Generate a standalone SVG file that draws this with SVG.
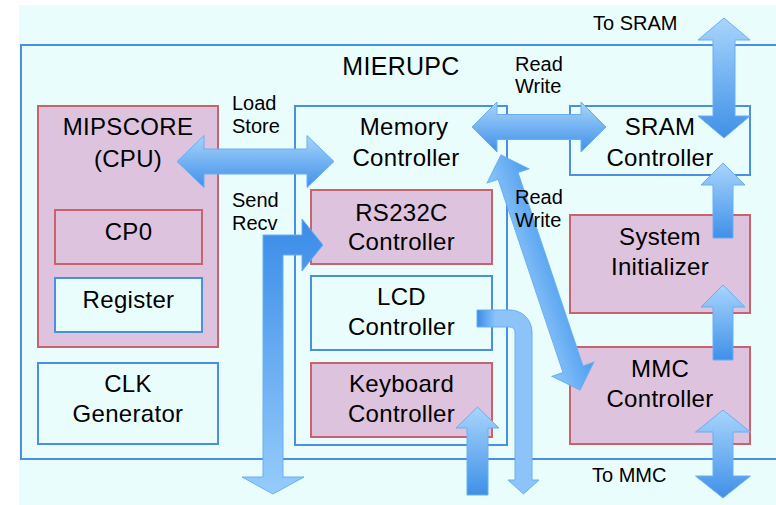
<svg xmlns="http://www.w3.org/2000/svg" width="776" height="505" viewBox="0 0 776 505">
<defs>
<style>
.bg{fill:#EAFDFD}
.blue{fill:#EAFDFD;stroke:#4A8FE2;stroke-width:2}
.red{fill:#DEC3DE;stroke:#C6636D;stroke-width:2}
text{font-family:"Liberation Sans",Arial,sans-serif;fill:#000}
.t{font-size:24px;text-anchor:middle;letter-spacing:0.3px}
.s{font-size:20px}
.arw{stroke:#6BAEF0;stroke-width:1;stroke-linejoin:miter}
</style>
<linearGradient id="gV" x1="0" y1="0" x2="0" y2="1">
<stop offset="0" stop-color="#A8D5FC"/>
<stop offset="1" stop-color="#3F90E8"/>
</linearGradient>
<linearGradient id="gVr" x1="0" y1="0" x2="0" y2="1">
<stop offset="0" stop-color="#3A8BE8"/>
<stop offset="1" stop-color="#95CCFC"/>
</linearGradient>
<linearGradient id="gL" x1="0" y1="0" x2="1" y2="0">
<stop offset="0" stop-color="#3A8BE8"/>
<stop offset="0.3" stop-color="#8CC4FA"/>
<stop offset="1" stop-color="#8CC4FA"/>
</linearGradient>
<linearGradient id="gD" x1="0" y1="0" x2="0" y2="1">
<stop offset="0" stop-color="#4C9CEE"/>
<stop offset="1" stop-color="#8EC6FA"/>
</linearGradient>
</defs>
<rect x="0" y="0" width="776" height="505" fill="#FFFFFF"/>
<rect class="bg" x="19" y="5" width="757" height="500"/>

<g id="mierupc">
<rect class="blue" x="21" y="45" width="790" height="414"/>
<text class="t" x="401" y="75" style="font-size:25px">MIERUPC</text>
</g>
<g id="mipscore">
<rect class="red" x="38" y="106" width="180" height="241"/>
<text class="t" x="128" y="135">MIPSCORE</text>
<text class="t" x="128" y="167">(CPU)</text>
</g>
<g id="cp0">
<rect class="red" x="55" y="210" width="147" height="54"/>
<text class="t" x="128.5" y="240">CP0</text>
</g>
<g id="register">
<rect class="blue" x="55" y="278" width="147" height="54"/>
<text class="t" x="128.5" y="308">Register</text>
</g>
<g id="clk">
<rect class="blue" x="38" y="363" width="180" height="81"/>
<text class="t" x="128" y="392">CLK</text>
<text class="t" x="128" y="422">Generator</text>
</g>
<g id="memctrl">
<rect class="blue" x="295" y="106" width="212" height="339"/>
<text class="t" x="404" y="135">Memory</text>
<text class="t" x="406" y="166">Controller</text>
</g>
<g id="rs232c">
<rect class="red" x="311" y="190" width="181" height="74"/>
<text class="t" x="401.5" y="221">RS232C</text>
<text class="t" x="401.5" y="250">Controller</text>
</g>
<g id="lcd">
<rect class="blue" x="311" y="276" width="181" height="74"/>
<text class="t" x="401.5" y="305">LCD</text>
<text class="t" x="401.5" y="335">Controller</text>
</g>
<g id="keyboard">
<rect class="red" x="311" y="363" width="181" height="74"/>
<text class="t" x="401.5" y="392">Keyboard</text>
<text class="t" x="401.5" y="422">Controller</text>
</g>
<g id="sram">
<rect class="blue" x="570" y="106" width="180" height="69"/>
<text class="t" x="660" y="135">SRAM</text>
<text class="t" x="660" y="166">Controller</text>
</g>
<g id="sysinit">
<rect class="red" x="570" y="215" width="180" height="98"/>
<text class="t" x="660" y="245">System</text>
<text class="t" x="660" y="275">Initializer</text>
</g>
<g id="mmc">
<rect class="red" x="570" y="347" width="180" height="97"/>
<text class="t" x="660" y="377">MMC</text>
<text class="t" x="660" y="407">Controller</text>
</g>

<g id="connectors">
<path class="arw" fill="url(#gV)" d="M177,161.5 L204,135.5 L204,149 L307,149 L307,135.5 L334,161.5 L307,187.5 L307,174 L204,174 L204,187.5 Z"/>
<path class="arw" fill="url(#gV)" d="M472,127 L497,102 L497,114.5 L581,114.5 L581,102 L606,127 L581,152 L581,139.5 L497,139.5 L497,152 Z"/>
<path class="arw" fill="url(#gV)" d="M724,18 L750,40 L735,40 L735,116 L750,116 L724,138 L698,116 L713,116 L713,40 L698,40 Z"/>
<path class="arw" fill="url(#gV)" d="M723,163 L745,185 L733,185 L733,238 L713,238 L713,185 L701,185 Z"/>
<path class="arw" fill="url(#gV)" d="M723,285 L745,307 L733,307 L733,360 L713,360 L713,307 L701,307 Z"/>
<path class="arw" fill="url(#gV)" d="M723,410 L750.5,432 L733,432 L733,476 L750.5,476 L723,498 L695.5,476 L713,476 L713,432 L695.5,432 Z"/>
<path class="arw" fill="url(#gV)" d="M477.5,407 L499,428 L488,428 L488,495 L467,495 L467,428 L456,428 Z"/>
<path class="arw" fill="url(#gVr)" d="M263,235 L302,235 L302,219 L323,245 L302,271 L302,255 L283,255 L283,477 L304,477 L273,494 L242,477 L263,477 Z"/>
<path class="arw" fill="url(#gL)" d="M477,310 L510,310 A22,22 0 0 1 532,332 L532,480 L539,480 L523.5,494 L508,480 L515,480 L515,332 A5,5 0 0 0 510,327 L477,327 Z"/>
<path class="arw" fill="url(#gD)" transform="translate(501,155) rotate(71.42)" d="M0,0 L22,-22 L22,-10.5 L226,-10.5 L226,-22 L248,0 L226,22 L226,10.5 L22,10.5 L22,22 Z"/>
</g>

<g id="labels">
<text class="s" x="232" y="110">Load</text>
<text class="s" x="232" y="133">Store</text>
<text class="s" x="232" y="207">Send</text>
<text class="s" x="232" y="230">Recv</text>
<text class="s" x="515" y="71">Read</text>
<text class="s" x="515" y="93">Write</text>
<text class="s" x="515" y="204">Read</text>
<text class="s" x="515" y="227">Write</text>
<text class="s" x="593" y="30">To SRAM</text>
<text class="s" x="592" y="482">To MMC</text>
</g>
</svg>
